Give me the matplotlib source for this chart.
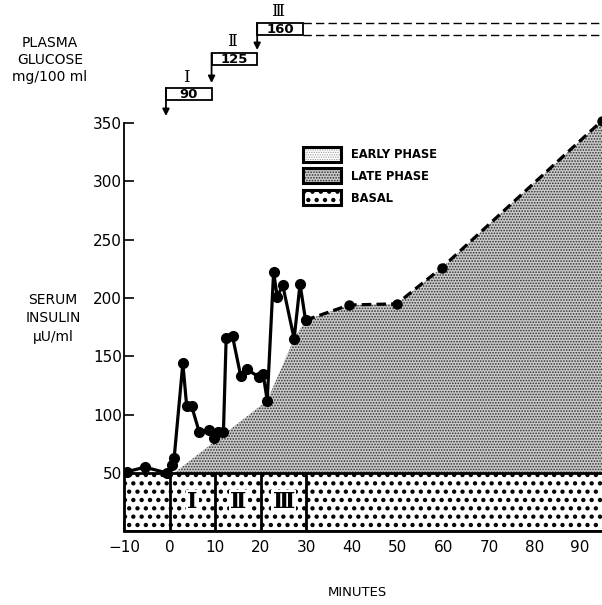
import matplotlib
matplotlib.use('Agg')
import matplotlib.pyplot as plt
import matplotlib.transforms as mtransforms
from matplotlib.patches import Rectangle, Polygon

plt.rcParams['font.family'] = ['DejaVu Sans', 'Noto Sans CJK JP']

# ---------------- data ----------------
time_min = [-9.4, -5.4, -0.6, 0.5, 1.0, 2.9, 3.75, 4.85, 6.5, 8.7, 9.7, 10.7,
            11.8, 12.4, 13.8, 15.6, 16.9, 19.7, 20.5, 21.4, 22.8, 23.6, 24.8,
            27.3, 28.6, 29.8]
insulin = [51, 55, 50, 57, 63, 144, 107, 107, 85, 87, 80, 85,
           85, 166, 167, 133, 139, 132, 135, 112, 222, 201, 211,
           165, 212, 181]
ext_time = [29.8, 39.4, 49.8, 59.7, 94.8]
ext_insulin = [181, 194, 195, 226, 352]
late_edge_time = [1.0, 21.4, 27.3]
late_edge_insulin = [50, 112, 165]
basal_level = 50
stage_labels = ['Ⅰ', 'Ⅱ', 'Ⅲ']
stage_start = [0, 10, 20]
stage_end = 30
glucose_conc = ['90', '125', '160']
x_ticks = [-10, 0, 10, 20, 30, 40, 50, 60, 70, 80, 90]
y_ticks = [50, 100, 150, 200, 250, 300, 350]
legend_labels = ['EARLY PHASE', 'LATE PHASE', 'BASAL']

W, H = 602, 605
fig = plt.figure(figsize=(W / 100, H / 100), dpi=100)
ax = fig.add_axes([124 / W, (H - 531.3) / H, (W - 124) / W, (531.3 - 116) / H])
ax.set_xlim(-10, 94.8)
ax.set_ylim(0, 356)

# overlay in pixel coordinates for annotations
ov = fig.add_axes([0, 0, 1, 1], zorder=10)
ov.set_xlim(0, W)
ov.set_ylim(H, 0)
ov.axis('off')
ov.patch.set_alpha(0)

SERIF = ['DejaVu Serif', 'DejaVu Sans', 'Noto Sans CJK JP']
BASAL_HLW = 1.9
LATE_HLW = 0.8


def set_hlw(p, lw):
    if hasattr(p, 'set_hatch_linewidth'):
        p.set_hatch_linewidth(lw)


# basal box
plt.rcParams['hatch.linewidth'] = BASAL_HLW
basal = Rectangle((-10, 0), 110, basal_level, facecolor='white', edgecolor='black',
                  hatch='..', lw=2.0, zorder=2)
set_hlw(basal, BASAL_HLW)
ax.add_patch(basal)
ax.vlines(stage_start + [stage_end], 0, basal_level, color='black', lw=2.0, zorder=3)
for lab, st in zip(stage_labels, stage_start):
    ax.text(st + 5, 25, lab, ha='center', va='center', fontsize=16, fontweight='bold',
            family=SERIF, zorder=4,
            bbox=dict(facecolor='white', edgecolor='none', pad=1.0))

# late phase stipple
plt.rcParams['hatch.linewidth'] = LATE_HLW
verts = list(zip(late_edge_time, late_edge_insulin)) + list(zip(ext_time, ext_insulin))
verts += [(ext_time[-1] + 1, ext_insulin[-1]), (ext_time[-1] + 1, basal_level),
          (late_edge_time[0], basal_level)]
late = Polygon(verts, closed=True, facecolor='#cbcbcb', edgecolor='#2e2e2e',
               hatch='......', lw=0, zorder=1)
set_hlw(late, LATE_HLW)
ax.add_patch(late)

# insulin curve
ax.plot(time_min, insulin, '-o', color='black', lw=2.3, ms=7, zorder=6)
ax.plot(ext_time, ext_insulin, color='black', lw=2.3, ls=(0, (3, 1.6)),
        marker='o', ms=6.5, zorder=6, clip_on=False)

# axes styling
for s in ['top', 'right']:
    ax.spines[s].set_visible(False)
ax.spines['left'].set_bounds(0, 350)
ax.spines['left'].set_linewidth(1.3)
ax.spines['bottom'].set_linewidth(2.0)
ax.set_xticks(x_ticks)
ax.set_yticks(y_ticks)
ax.tick_params(axis='x', direction='in', length=7, width=1.2, pad=6, labelsize=11)
ax.tick_params(axis='y', direction='in', length=7, width=1.2, pad=1.5, labelsize=11)
ax.patch.set_alpha(0)

# legend (manual)
leg_y = [147, 168, 190]
leg_specs = [dict(facecolor='white', edgecolor='#9a9a9a', hatch='.......', hlw=0.6),
             dict(facecolor='#cbcbcb', edgecolor='#2e2e2e', hatch='......', hlw=LATE_HLW),
             dict(facecolor='white', edgecolor='black', hatch='..', hlw=BASAL_HLW)]
for lab, y0, spec in zip(legend_labels, leg_y, leg_specs):
    plt.rcParams['hatch.linewidth'] = spec['hlw']
    sw = Rectangle((303, y0), 38, 15, facecolor=spec['facecolor'],
                   edgecolor=spec['edgecolor'], hatch=spec['hatch'], lw=0)
    set_hlw(sw, spec['hlw'])
    ov.add_patch(sw)
    ov.add_patch(Rectangle((303, y0), 38, 15, facecolor='none', edgecolor='black', lw=2.2))
    ov.text(351, y0 + 8, lab, ha='left', va='center', fontsize=8.3, fontweight='bold')

# glucose step boxes
trans = mtransforms.blended_transform_factory(ax.transData, ov.transData)
box_top = [88, 53, 23]
arrow_tip = [116, 83, 50]
label_y = [77, 42, 12]
for lab, st, conc, top, tip, ly in zip(stage_labels, stage_start, glucose_conc,
                                       box_top, arrow_tip, label_y):
    x0 = st - 0.8
    ov.add_patch(Rectangle((x0, top), 10, 12, transform=trans, facecolor='white',
                           edgecolor='black', lw=1.3, clip_on=False))
    ov.text(x0 + 5, top + 6.5, conc, transform=trans, ha='center', va='center',
            fontsize=9.5, fontweight='bold')
    ov.annotate('', xy=(x0, tip), xytext=(x0, top), xycoords=trans, textcoords=trans,
                arrowprops=dict(arrowstyle='-|>', color='black', lw=1.3,
                                mutation_scale=10, shrinkA=0, shrinkB=0))
    ov.text(x0 + 4.5, ly, lab, transform=trans, ha='center', va='center', fontsize=12,
            family=SERIF)
last = stage_start[-1] - 0.8 + 10
for yy in (box_top[-1], box_top[-1] + 12):
    ov.plot([last, 100], [yy, yy], transform=trans, color='black', lw=1.0,
            ls=(0, (6, 3)), clip_on=False)

# axis titles
for txt, yy in zip(['PLASMA', 'GLUCOSE', 'mg/100 ml'], [43, 60, 77]):
    ov.text(50, yy, txt, ha='center', va='center', fontsize=10)
for txt, yy in zip(['SERUM', 'INSULIN', 'μU/ml'], [300, 318, 337]):
    ov.text(53, yy, txt, ha='center', va='center', fontsize=10)
ov.text(357, 592, 'MINUTES', ha='center', va='center', fontsize=9.5)

fig.savefig('out.png', dpi=100)
